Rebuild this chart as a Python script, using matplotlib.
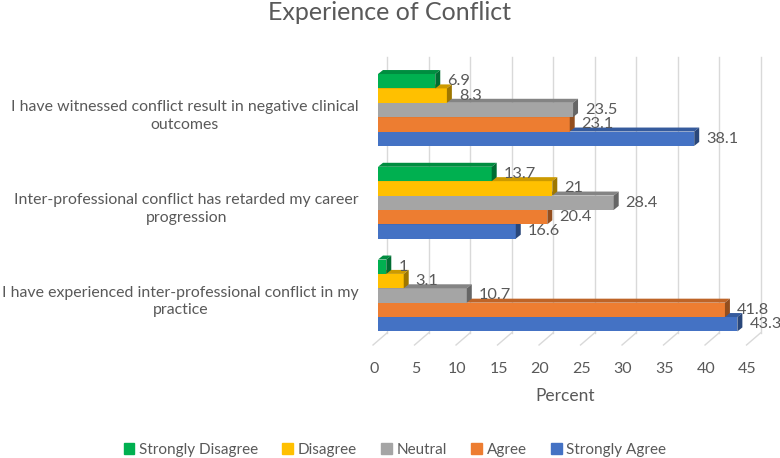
import numpy as np
import matplotlib.pyplot as plt
from matplotlib.patches import Polygon, Patch
from matplotlib.transforms import ScaledTranslation

plt.rcParams['font.family'] = ['Lato', 'DejaVu Sans']

# data (bottom group first)
categories = ['I have experienced inter-professional conflict in my\npractice',
              'Inter-professional conflict has retarded my career\nprogression',
              'I have witnessed conflict result in negative clinical\noutcomes']
series_names = ['Strongly Disagree', 'Disagree', 'Neutral', 'Agree', 'Strongly Agree']
strongly_disagree = [1, 13.7, 6.9]
disagree = [3.1, 21, 8.3]
neutral = [10.7, 28.4, 23.5]
agree = [41.8, 20.4, 23.1]
strongly_agree = [43.3, 16.6, 38.1]
x_ticks = [0, 5, 10, 15, 20, 25, 30, 35, 40, 45]

series = [strongly_disagree, disagree, neutral, agree, strongly_agree]
colors = ['#00B050', '#FFC000', '#A5A5A5', '#ED7D31', '#4472C4']
text_col = '#595959'


def shade(c, f):
    c = np.array(plt.matplotlib.colors.to_rgb(c))
    return tuple(c * f)


fig = plt.figure(figsize=(7.8, 4.58), dpi=100)
W, H = 780, 458
px_left, px_right = 378, 751.5
py_top, py_bot = 57, 345
ax = fig.add_axes([px_left / W, 1 - py_bot / H, (px_right - px_left) / W, (py_bot - py_top) / H])
ax.set_xlim(0, 45)
ax.set_ylim(-0.534, 2.571)

h = 0.155          # bar thickness
ddx, ddy = 0.6, 0.043   # 3d depth of bars
back = 1.085        # offset of back wall
floor_y = -0.404

# gridlines on back wall and floor
for v in x_ticks:
    ax.plot([v + back, v + back], [floor_y, 2.571], color='#D9D9D9', lw=1, zorder=0, clip_on=False)
    ax.plot([v + back, v - 0.6], [floor_y, -0.534], color='#D9D9D9', lw=1, zorder=0, clip_on=False)

pos = np.arange(len(categories))
offsets = [2 * h, h, 0, -h, -2 * h]
# draw from bottom bar (blue) up so upper bars cover the top faces
z = 2
for k in range(len(series) - 1, -1, -1):
    vals = series[k]
    for i, v in enumerate(vals):
        yc = pos[i] + offsets[k]
        b, t = yc - h / 2, yc + h / 2
        ax.barh(yc, v, height=h, color=colors[k], zorder=z, clip_on=False)
        ax.add_patch(Polygon([(0, t), (v, t), (v + ddx, t + ddy), (ddx, t + ddy)],
                             closed=True, color=shade(colors[k], 0.8), zorder=z, lw=0, clip_on=False))
        ax.add_patch(Polygon([(v, b), (v, t), (v + ddx, t + ddy), (v + ddx, b + ddy)],
                             closed=True, color=shade(colors[k], 0.62), zorder=z, lw=0, clip_on=False))
        ax.annotate(f'{v:g}', (v + ddx, yc), xytext=(5, 0), textcoords='offset points',
                    ha='left', va='center', fontsize=11.8, color=text_col, zorder=20,
                    annotation_clip=False)
    z += 1

for s in ax.spines.values():
    s.set_visible(False)

ax.set_yticks(pos)
ax.set_yticklabels(categories, fontsize=11.4, color=text_col, multialignment='center',
                   linespacing=1.3)
ax.tick_params(axis='y', length=0, pad=14)
for lbl in ax.get_yticklabels():
    lbl.set_transform(lbl.get_transform() + ScaledTranslation(0, -3 / 100, fig.dpi_scale_trans))

ax.set_xticks(x_ticks)
ax.set_xticklabels([str(t) for t in x_ticks], fontsize=11.5, color=text_col)
ax.tick_params(axis='x', length=0, pad=12)
for lbl in ax.get_xticklabels():
    lbl.set_transform(lbl.get_transform() + ScaledTranslation(-4 / 100, 0, fig.dpi_scale_trans))

ax.set_xlabel('Percent', fontsize=12.5, color=text_col, labelpad=9)

fig.text(389 / W, 1 - 13 / H, 'Experience of Conflict', ha='center', va='center',
         fontsize=18, color=text_col)

handles = [Patch(color=c, label=n) for c, n in zip(colors, series_names)]
fig.legend(handles=handles, loc='center', bbox_to_anchor=(395 / W, 1 - 450 / H), ncol=5,
           frameon=False, fontsize=11, handlelength=0.7, handleheight=0.7,
           handletextpad=0.3, columnspacing=1.6, labelcolor=text_col)

fig.savefig('out.png', dpi=100)
